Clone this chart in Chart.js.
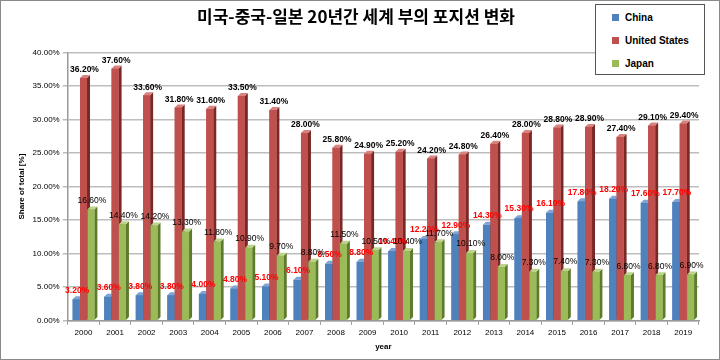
<!DOCTYPE html>
<html>
<head>
<meta charset="utf-8">
<script src="https://cdn.jsdelivr.net/npm/chart.js@4.4.1/dist/chart.umd.min.js"></script>
<style>
  body { margin: 0; background: #fff; }
  #wrap {
    position: relative;
    width: 720px; height: 360px;
    box-sizing: border-box;
    border: 1px solid #8a8a8a;
  }
  #legend {
    position: absolute;
    left: 594px; top: 3px;
    width: 110px; height: 71px;
    box-sizing: border-box;
    border: 1px solid #555;
    background: #fff;
    font: bold 10px "Liberation Sans", Arial, sans-serif;
    color: #000;
  }
  #legend div { position: absolute; left: 16px; }
  #legend span {
    display: inline-block; width: 7px; height: 7px;
    margin-right: 6px; vertical-align: -0px;
  }
</style>
</head>
<body>
<div id="wrap">
  <canvas id="chart" width="718" height="358"></canvas>
  <div id="legend">
    <div style="top:7px"><span style="background:#4F81BD"></span>China</div>
    <div style="top:30px"><span style="background:#C0504D"></span>United States</div>
    <div style="top:53px"><span style="background:#9BBB59"></span>Japan</div>
  </div>
</div>
<script>
const years = ['2000', '2001', '2002', '2003', '2004', '2005', '2006', '2007', '2008', '2009',
               '2010', '2011', '2012', '2013', '2014', '2015', '2016', '2017', '2018', '2019'];
const china = [3.2, 3.6, 3.8, 3.8, 4.0, 4.8, 5.1, 6.1, 8.5, 8.8,
               10.4, 12.2, 12.9, 14.3, 15.3, 16.1, 17.8, 18.2, 17.6, 17.7];
const usa = [36.2, 37.6, 33.6, 31.8, 31.6, 33.5, 31.4, 28.0, 25.8, 24.9,
             25.2, 24.2, 24.8, 26.4, 28.0, 28.8, 28.9, 27.4, 29.1, 29.4];
const japan = [16.6, 14.4, 14.2, 13.3, 11.8, 10.9, 9.7, 8.8, 11.5, 10.5,
               10.4, 11.7, 10.1, 8.0, 7.3, 7.4, 7.3, 6.8, 6.8, 6.9];

const FONT = '"Liberation Sans", Arial, sans-serif';

// draws bars with a fake 3d side/top, then the value labels
const bar3d = {
  id: 'bar3d',
  afterDatasetsDraw(chart) {
    const ctx = chart.ctx;
    const d = 3;
    ctx.save();
    chart.data.datasets.forEach((ds, i) => {
      const meta = chart.getDatasetMeta(i);
      meta.data.forEach(bar => {
        const { x, y, base, width } = bar.getProps(['x', 'y', 'base', 'width'], true);
        const l = x - width / 2, r = x + width / 2;
        ctx.fillStyle = ds.sideColor;
        ctx.beginPath();
        ctx.moveTo(r, y); ctx.lineTo(r + d, y - d); ctx.lineTo(r + d, base - d); ctx.lineTo(r, base);
        ctx.closePath(); ctx.fill();
        ctx.fillStyle = ds.topColor;
        ctx.beginPath();
        ctx.moveTo(l, y); ctx.lineTo(l + d, y - d); ctx.lineTo(r + d, y - d); ctx.lineTo(r, y);
        ctx.closePath(); ctx.fill();
        ctx.fillStyle = ds.backgroundColor;
        ctx.fillRect(l, y, width, base - y);
      });
    });

    ctx.textAlign = 'center';
    ctx.textBaseline = 'middle';
    chart.data.datasets.forEach((ds, i) => {
      const meta = chart.getDatasetMeta(i);
      ctx.font = ds.labelFont;
      ctx.fillStyle = ds.labelColor;
      meta.data.forEach((bar, j) => {
        ctx.fillText(ds.data[j].toFixed(2) + '%', bar.x + 1, bar.y - ds.labelGap);
      });
    });
    ctx.restore();
  }
};

const data = {
  labels: years,
  datasets: [
    {
      label: 'China',
      data: china,
      backgroundColor: '#4F81BD',
      sideColor: '#2F5686',
      topColor: '#7FA3D4',
      labelColor: '#FF0000',
      labelFont: 'bold 8.5px ' + FONT,
      labelGap: 9
    },
    {
      label: 'United States',
      data: usa,
      backgroundColor: '#C0504D',
      sideColor: '#7A2826',
      topColor: '#D98280',
      labelColor: '#000',
      labelFont: 'bold 8.5px ' + FONT,
      labelGap: 8
    },
    {
      label: 'Japan',
      data: japan,
      backgroundColor: '#9BBB59',
      sideColor: '#5E7A2C',
      topColor: '#BCD48A',
      labelColor: '#000',
      labelFont: '8.5px ' + FONT,
      labelGap: 9
    }
  ]
};

const options = {
  responsive: false,
  animation: false,
  categoryPercentage: 0.7,
  barPercentage: 0.95,
  layout: {
    padding: { left: 12, right: 20, bottom: 3 }
  },
  plugins: {
    legend: { display: false },
    tooltip: { enabled: false },
    title: {
      display: true,
      text: '미국-중국-일본 20년간 세계 부의 포지션 변화',
      color: '#000',
      font: { family: '"Noto Sans CJK KR", sans-serif', size: 17, weight: 'bold' },
      padding: { top: 5, bottom: 26 }
    }
  },
  scales: {
    x: {
      grid: {
        display: true,
        drawOnChartArea: false,
        offset: true,
        tickLength: 4,
        color: '#9a9a9a'
      },
      border: { color: '#9a9a9a', width: 1.5 },
      ticks: { color: '#000', font: { family: FONT, size: 8 }, maxRotation: 0, autoSkip: false },
      title: {
        display: true,
        text: 'year',
        color: '#000',
        font: { family: FONT, size: 8, weight: 'bold' },
        padding: { top: 2 }
      }
    },
    y: {
      min: 0,
      max: 40,
      grid: { color: '#bdbdbd', lineWidth: 1.5, tickLength: 5 },
      border: { color: '#9a9a9a', width: 1.5 },
      ticks: {
        stepSize: 5,
        color: '#000',
        font: { family: FONT, size: 8 },
        padding: 3,
        callback: v => v.toFixed(2) + '%'
      },
      title: {
        display: true,
        text: 'Share of total [%]',
        color: '#000',
        font: { family: FONT, size: 8, weight: 'bold' },
        padding: { bottom: 3 }
      }
    }
  }
};

new Chart(document.getElementById('chart'), {
  type: 'bar',
  data: data,
  options: options,
  plugins: [bar3d]
});
</script>
</body>
</html>
